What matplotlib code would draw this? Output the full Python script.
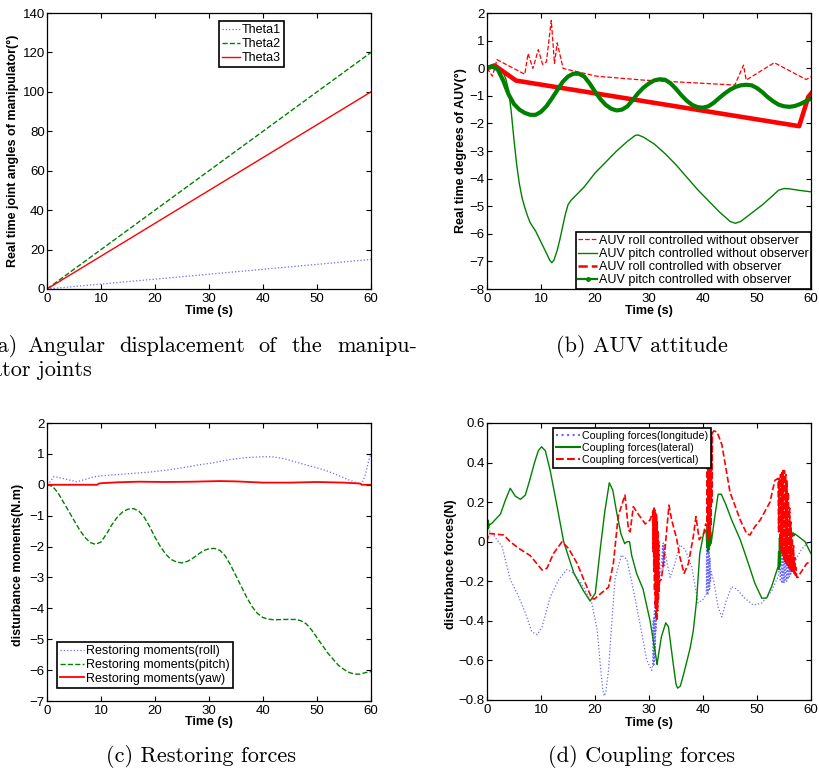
import numpy as np
import matplotlib.pyplot as plt
from matplotlib.lines import Line2D

plt.rcParams['font.family'] = ['Liberation Sans', 'DejaVu Sans']

W, H = 819, 770

# ---------------- (a) joint angles ----------------
time_a = [0, 60]
theta1 = [0, 15]
theta2 = [0, 120]
theta3 = [0, 100]

# ---------------- (b) AUV attitude ----------------
roll_wo_t = [0, 1.0, 1.85, 7.0, 7.6, 8.5, 9.5, 10.3, 11.0, 11.9, 12.5, 13.0, 14.1,
             20.3, 28.9, 45.9, 47.5, 48.0, 53.2, 59.1, 60]
roll_wo = [0, -0.29, 0.31, -0.22, 0.53, -0.01, 0.67, 0.14, 0.23, 1.73, 0.17, 0.92, -0.01,
           -0.29, -0.43, -0.61, 0.11, -0.43, 0.2, -0.41, -0.31]

pitch_wo_t = [0, 1, 2, 3, 3.5, 4, 4.5, 5, 5.5, 6, 6.5, 7, 7.5, 8, 9, 10, 11, 11.6, 12, 12.4,
              13, 13.5, 14, 14.5, 15, 15.5, 16.5, 18, 20, 22, 24, 26, 27.5, 28, 29, 31, 33,
              35, 37, 39, 41, 43, 45, 46, 47, 49, 51, 53, 54, 55, 56, 58, 60]
pitch_wo = [0, 0.05, 0.02, -0.15, -0.4, -0.8, -1.6, -2.6, -3.5, -4.2, -4.7, -5.05, -5.35,
            -5.6, -5.9, -6.3, -6.7, -6.95, -7.05, -6.95, -6.6, -6.2, -5.75, -5.3, -4.95, -4.8,
            -4.6, -4.3, -3.8, -3.4, -3.0, -2.65, -2.43, -2.42, -2.5, -2.75, -3.1, -3.5, -3.95,
            -4.4, -4.8, -5.2, -5.55, -5.62, -5.55, -5.25, -4.95, -4.6, -4.42, -4.36, -4.37,
            -4.43, -4.48]

roll_w_t = [0, 1.4, 5.4, 57.8, 59.5, 60]
roll_w = [0, 0.1, -0.45, -2.1, -1.04, -0.92]

pitch_w_t = list(range(0, 61))
pitch_w = [0, 0.07, -0.05, -0.45, -0.95, -1.3, -1.5, -1.62, -1.69, -1.69, -1.58, -1.38,
           -1.1, -0.8, -0.5, -0.3, -0.2, -0.2, -0.3, -0.55, -0.85, -1.12, -1.33, -1.47,
           -1.53, -1.5, -1.38, -1.15, -0.9, -0.7, -0.55, -0.44, -0.4, -0.42, -0.55, -0.75,
           -0.98, -1.18, -1.33, -1.41, -1.43, -1.38, -1.25, -1.08, -0.92, -0.78, -0.68,
           -0.62, -0.6, -0.62, -0.72, -0.87, -1.05, -1.2, -1.32, -1.38, -1.4, -1.37, -1.3,
           -1.2, -1.1]

# ---------------- (c) restoring moments ----------------
mroll_t = [0, 0.6, 1.3, 2.5, 4, 5.5, 7, 8.5, 10, 13, 16, 19, 22, 25, 28, 31, 34, 37, 40,
           42, 44, 46, 48, 50, 52, 54, 56, 57.5, 58.3, 59, 59.6, 60]
mroll = [0, 0.1, 0.27, 0.22, 0.16, 0.1, 0.17, 0.25, 0.29, 0.33, 0.37, 0.41, 0.47, 0.55,
         0.64, 0.72, 0.82, 0.88, 0.91, 0.9, 0.84, 0.74, 0.64, 0.55, 0.44, 0.3, 0.15, 0.06,
         0.02, 0.35, 0.8, 1.02]

mpitch_t = [0, 1, 2, 3, 4, 5, 6, 7, 8, 9, 10, 11, 12, 13, 14, 15, 16, 17, 18, 19, 20, 21,
            22, 23, 24, 25, 26, 27, 28, 29, 30, 31, 32, 33, 34, 35, 36, 37, 38, 39, 40, 41,
            42, 44, 46, 47, 48, 49, 50, 51, 52, 53, 54, 55, 56, 57, 58, 59, 60]
mpitch = [0, -0.05, -0.25, -0.55, -0.85, -1.15, -1.45, -1.7, -1.87, -1.93, -1.85, -1.6,
          -1.3, -1.05, -0.88, -0.79, -0.77, -0.85, -1.05, -1.35, -1.7, -2.0, -2.25, -2.42,
          -2.5, -2.53, -2.48, -2.38, -2.25, -2.13, -2.07, -2.06, -2.12, -2.3, -2.6, -2.95,
          -3.3, -3.65, -3.95, -4.17, -4.3, -4.35, -4.37, -4.36, -4.36, -4.4, -4.5, -4.7,
          -4.95, -5.2, -5.45, -5.65, -5.85, -5.98, -6.08, -6.13, -6.13, -6.08, -6.05]

myaw_t = [0, 9.3, 9.6, 10, 13, 17, 22, 27, 32, 35, 40, 45, 50, 55, 58, 58.3, 60]
myaw = [0, 0, 0.04, 0.05, 0.08, 0.1, 0.09, 0.1, 0.12, 0.11, 0.07, 0.07, 0.09, 0.07, 0.04, 0, 0]

# ---------------- (d) coupling forces ----------------
# longitude
lon_t = [0, 1.2, 2.8, 4.3, 5.9, 7.1, 8.3, 9.3, 10.2, 11.7, 13.3, 14.8, 16.1, 17.9, 19.4,
         20.4, 21.0, 21.4, 21.7, 22.0, 22.5, 23.0, 23.7, 24.9, 25.9, 27.0, 28.3, 29.6, 30.5,
         30.7, 30.76, 30.82, 30.88, 30.94, 31.0, 31.06, 31.12, 31.18, 31.24, 31.3, 31.36,
         32.0, 32.4,
         32.5, 32.58, 32.66, 32.74, 32.82, 32.9, 32.98,
         33.3, 33.9, 34.8, 35.7, 36.7, 37.9, 39.1, 40.1, 40.5,
         40.6, 40.68, 40.76, 40.84, 40.92, 41.0, 41.08, 41.16, 41.24, 41.32, 41.4, 41.48,
         42.0, 42.8, 43.5, 44.3, 45.3, 46.3, 47.5, 49.3, 50.9, 52.7, 54.0,
         54.2, 54.32, 54.44, 54.56, 54.68, 54.8, 54.92, 55.04, 55.16, 55.28, 55.4, 55.52,
         55.64, 55.76, 55.88, 56.0, 56.12, 56.24, 56.36, 56.48, 56.6,
         57.2, 58.2, 59.2, 60]
lon = [0.068, 0.034, -0.025, -0.19, -0.28, -0.36, -0.455, -0.47, -0.43, -0.28, -0.19,
       -0.14, -0.16, -0.23, -0.31, -0.445, -0.63, -0.74, -0.78, -0.76, -0.65, -0.45, -0.19,
       -0.067, -0.09, -0.23, -0.41, -0.6, -0.65,
       -0.62, -0.4, -0.63, -0.38, -0.62, -0.35, -0.6, -0.3, -0.55, -0.28, -0.45, -0.25,
       -0.19, -0.08,
       -0.02, -0.14, 0.0, -0.13, -0.01, -0.12, -0.05,
       -0.1, -0.18, -0.11, -0.016, -0.04, -0.126, -0.31, -0.29, -0.27,
       -0.27, -0.02, -0.26, 0.0, -0.27, -0.01, -0.25, -0.03, -0.24, -0.08, -0.2, -0.15,
       -0.2, -0.33, -0.38, -0.3, -0.227, -0.24, -0.28, -0.32, -0.31, -0.25, -0.17,
       -0.08, -0.2, -0.07, -0.21, -0.07, -0.21, -0.06, -0.21, -0.07, -0.2, -0.07, -0.2,
       -0.08, -0.19, -0.08, -0.18, -0.09, -0.17, -0.09, -0.15, -0.1,
       -0.09, -0.04, -0.01, 0.0]

# lateral
lat_t = [0, 0.05, 0.1, 0.15, 0.2, 0.25, 0.3, 0.35, 0.4, 0.9, 2.5, 3.4, 4.3, 5.25, 6.2, 7.1,
         7.9, 8.8, 9.5, 10.1, 10.8, 11.7, 12.9, 14.2, 16.1, 17.9, 19.1, 20.06, 21.0, 21.8,
         22.65, 23.3, 24.0, 24.8, 25.5, 25.9, 26.4, 26.8, 27.7, 28.9, 30.2, 31.1, 31.5,
         31.6, 32.3, 33.1, 33.6, 34.5, 35.0, 35.3, 35.8, 36.5, 37.6, 38.2, 38.8, 39.4, 40.1,
         40.6, 40.7, 40.8, 40.9, 41.0, 41.1, 41.2, 41.3, 41.4, 41.5,
         41.8, 42.2, 42.8, 43.4, 44.2, 45.3, 46.9, 48.4, 49.6, 50.9, 51.8, 52.7, 53.9,
         54.0, 54.08, 54.16, 54.24, 54.32, 54.4, 54.48, 54.56, 54.64,
         54.75, 54.9, 55.05, 55.2, 55.35, 55.5, 55.65, 55.8, 55.95, 56.1, 56.25, 56.4,
         56.55, 56.7, 56.85, 57.0,
         57.5, 58.9, 59.8, 60]
lat = [0, 0.1, 0.06, 0.11, 0.07, 0.1, 0.07, 0.09, 0.085, 0.093, 0.14, 0.21, 0.27, 0.23,
       0.214, 0.236, 0.31, 0.4, 0.46, 0.48, 0.46, 0.36, 0.19, 0.0, -0.16, -0.25, -0.3,
       -0.26, -0.03, 0.15, 0.298, 0.26, 0.15, 0.04, -0.01, 0.0, 0.0, -0.07, -0.16, -0.24,
       -0.4, -0.55, -0.62, -0.6, -0.48, -0.41, -0.43, -0.62, -0.72, -0.74, -0.73, -0.66,
       -0.54, -0.45, -0.3, -0.06, 0.04,
       0.06, -0.03, 0.08, -0.05, 0.09, -0.04, 0.08, -0.02, 0.05, -0.01,
       0.05, 0.13, 0.24, 0.24, 0.19, 0.11, 0.01, -0.11, -0.21, -0.286, -0.284, -0.227, -0.126,
       -0.05, -0.14, 0.02, -0.12, 0.04, -0.06, 0.05, 0.0, 0.05,
       0.03, 0.06, 0.03, 0.06, 0.03, 0.06, 0.03, 0.06, 0.03, 0.055, 0.03, 0.05,
       0.03, 0.045, 0.03, 0.04,
       0.03, 0.0, -0.05, -0.06]

# vertical
vert_t = [0, 0.3, 3.1, 4.3, 5.9, 8.0, 8.9, 10.2, 11.1, 12.3, 13.9, 15.1, 16.7, 17.9, 19.4,
          19.9, 20.7, 22.5, 23.4, 24.3, 25.55, 26.2, 26.5, 27.1, 28.0, 29.3, 30.2, 30.7,
          30.75, 30.82, 30.89, 30.96, 31.03, 31.1, 31.17, 31.24, 31.31, 31.38, 31.45,
          31.52, 31.59, 31.66, 31.73, 31.8, 31.87, 31.94,
          32.3, 33.0, 33.7, 34.2, 35.1, 35.7, 36.5, 37.3, 38.2, 38.7, 39.3, 40.1, 40.5,
          40.7, 40.78, 40.86, 40.94, 41.02, 41.1, 41.18, 41.26, 41.34, 41.42, 41.5, 41.58,
          41.66, 41.74,
          42.0, 42.6, 43.5, 45.0, 46.9, 48.1, 48.7, 49.6, 50.6, 52.4, 53.3, 53.9,
          54.0, 54.12, 54.24, 54.36, 54.48, 54.6, 54.72, 54.84, 54.96, 55.08, 55.2, 55.32,
          55.44, 55.56, 55.68, 55.8, 55.92, 56.04, 56.16, 56.28, 56.4, 56.52, 56.64, 56.76,
          56.88, 57.0, 57.12, 57.24, 57.36,
          57.6, 58.0, 59.2, 60]
vert = [0, 0.042, 0.034, 0.0, -0.034, -0.07, -0.1, -0.143, -0.134, -0.06, 0.0, -0.034,
        -0.11, -0.19, -0.286, -0.29, -0.27, -0.23, -0.11, 0.13, 0.236, 0.06, 0.05, 0.177,
        0.14, 0.09, 0.11, 0.15,
        -0.05, 0.16, -0.15, 0.17, -0.25, 0.16, -0.33, 0.15, -0.39, 0.14, -0.4, 0.1, -0.35,
        0.05, -0.3, 0.0, -0.25, -0.2,
        -0.19, -0.025, 0.185, 0.11, 0.017, -0.075, -0.16, -0.11, 0.025, 0.127, 0.01, 0.04, 0.09,
        0.08, 0.45, 0.02, 0.5, 0.01, 0.53, 0.02, 0.55, 0.03, 0.55, 0.08, 0.55, 0.2, 0.55,
        0.56, 0.555, 0.49, 0.25, 0.11, 0.04, 0.034, 0.076, 0.11, 0.2, 0.31, 0.32,
        0.05, 0.32, 0.0, 0.34, -0.05, 0.35, -0.07, 0.36, -0.09, 0.36, -0.1, 0.34, -0.11,
        0.31, -0.12, 0.25, -0.13, 0.17, -0.14, 0.1, -0.15, 0.04, -0.15, -0.02, -0.16, -0.08,
        -0.17, -0.13, -0.18,
        -0.18, -0.16, -0.11, -0.1]

x_ticks = [0, 10, 20, 30, 40, 50, 60]
a_yticks = [0, 20, 40, 60, 80, 100, 120, 140]
b_yticks = [-8, -7, -6, -5, -4, -3, -2, -1, 0, 1, 2]
c_yticks = [-7, -6, -5, -4, -3, -2, -1, 0, 1, 2]
d_yticks = [-0.8, -0.6, -0.4, -0.2, 0, 0.2, 0.4, 0.6]
d_ylabels = ['\u22120.8', '\u22120.6', '\u22120.4', '\u22120.2', '0', '0.2', '0.4', '0.6']

BLUE = '#6a6aff'
GREEN = '#008000'
RED = '#ff0000'


def rect(l, t, r, b):
    return [l / W, 1 - b / H, (r - l) / W, (b - t) / H]


def style(ax, yticks, ylim, ylabel, lx, ly, xly, ylabels=None):
    ax.set_xlim(0, 60)
    ax.set_xticks(x_ticks)
    ax.set_ylim(*ylim)
    ax.set_yticks(yticks)
    if ylabels is not None:
        ax.set_yticklabels(ylabels)
    ax.tick_params(direction='in', top=True, right=True, length=3.5, width=0.8,
                   labelsize=9.5, colors='black')
    ax.tick_params(axis='x', pad=3)
    ax.tick_params(axis='y', pad=1.5)
    ax.set_xlabel('Time (s)', fontweight='bold', fontsize=9)
    ax.xaxis.set_label_coords(0.5, xly)
    ax.set_ylabel(ylabel, fontweight='bold', fontsize=9)
    ax.yaxis.set_label_coords(lx, ly)
    for s in ax.spines.values():
        s.set_linewidth(0.9)


def frame(leg):
    f = leg.get_frame()
    f.set_edgecolor('black')
    f.set_linewidth(1.2)
    f.set_boxstyle('square', pad=0)


fig = plt.figure(figsize=(W / 100, H / 100), dpi=100)

# (a)
ax = fig.add_axes(rect(47, 13, 371, 289))
ax.plot(time_a, theta1, ls=':', color=BLUE, lw=0.9, label='Theta1')
ax.plot(time_a, theta2, ls='--', color=GREEN, lw=1.0, label='Theta2')
ax.plot(time_a, theta3, ls='-', color=RED, lw=1.0, label='Theta3')
style(ax, a_yticks, (0, 140), 'Real time joint angles of manipulator(°)', -0.086, 0.5, -0.058)
leg = ax.legend(loc='upper left', bbox_to_anchor=(0.531, 0.971), fontsize=9, fancybox=False,
                borderaxespad=0, borderpad=0.25, handlelength=1.4, handletextpad=0.15,
                labelspacing=0.15, framealpha=1)
frame(leg)

# (b)
ax = fig.add_axes(rect(487, 13, 811, 289))
ax.plot(roll_wo_t, roll_wo, ls='--', color=RED, lw=0.9)
ax.plot(pitch_wo_t, pitch_wo, ls='-', color=GREEN, lw=1.0)
ax.plot(roll_w_t, roll_w, ls='-', color=RED, lw=3.3)
ax.plot(pitch_w_t, pitch_w, ls='-', color=GREEN, lw=3.0)
style(ax, b_yticks, (-8, 2), 'Real time degrees of AUV(°)', -0.062, 0.5, -0.058)
handles = [Line2D([], [], ls='--', color=RED, lw=0.9),
           Line2D([], [], ls='-', color=GREEN, lw=1.0),
           Line2D([], [], ls='--', color=RED, lw=1.8),
           Line2D([], [], ls='-', color=GREEN, lw=1.6, marker='.', ms=5)]
labels = ['AUV roll controlled without observer', 'AUV pitch controlled without observer',
          'AUV roll controlled with observer', 'AUV pitch controlled with observer']
leg = ax.legend(handles, labels, loc='lower right', bbox_to_anchor=(1.0, 0.0), fontsize=9,
                fancybox=False, borderaxespad=0, borderpad=0.2, handlelength=1.5,
                handletextpad=0.15, labelspacing=0.1, framealpha=1)
frame(leg)

# (c)
ax = fig.add_axes(rect(47, 423, 371, 701))
ax.plot(mroll_t, mroll, ls=':', color=BLUE, lw=0.9, label='Restoring moments(roll)')
ax.plot(mpitch_t, mpitch, ls='--', color=GREEN, lw=1.0, label='Restoring moments(pitch)')
ax.plot(myaw_t, myaw, ls='-', color=RED, lw=1.3, label='Restoring moments(yaw)')
style(ax, c_yticks, (-7, 2), 'disturbance moments(N.m)', -0.071, 0.49, -0.054)
leg = ax.legend(loc='lower left', bbox_to_anchor=(0.031, 0.047), fontsize=9, fancybox=False,
                borderaxespad=0, borderpad=0.25, handlelength=1.9, handletextpad=0.15,
                labelspacing=0.15, framealpha=1)
frame(leg)

# (d)
ax = fig.add_axes(rect(487, 423, 811, 700))
ax.plot(lon_t, lon, ls=':', color=BLUE, lw=0.9, label='Coupling forces(longitude)')
ax.plot(lat_t, lat, ls='-', color=GREEN, lw=1.0, label='Coupling forces(lateral)')
ax.plot(vert_t, vert, ls='--', color=RED, lw=1.2, label='Coupling forces(vertical)')
style(ax, d_yticks, (-0.8, 0.6), 'disturbance forces(N)', -0.093, 0.49, -0.061, d_ylabels)
leg = ax.legend(loc='upper left', bbox_to_anchor=(0.204, 0.982), fontsize=7.7, fancybox=False,
                borderaxespad=0, borderpad=0.25, handlelength=2.3, handletextpad=0.15,
                labelspacing=0.2, framealpha=1)
for line in leg.get_lines():
    line.set_linewidth(1.5)
frame(leg)

# captions
cap = dict(family='cmr10', fontsize=16, va='baseline')
fig.text(18 / W, 1 - 352 / H, '(a)', ha='right', **cap)
for word, x in [('Angular', 27), ('displacement', 119), ('of', 258), ('the', 292),
                ('manipu-', 337)]:
    fig.text(x / W, 1 - 352 / H, word, ha='left', **cap)
fig.text(-15 / W, 1 - 376 / H, 'lator joints', ha='left', **cap)
fig.text(642 / W, 1 - 352 / H, '(b) AUV attitude', ha='center', **cap)
fig.text(201 / W, 1 - 762 / H, '(c) Restoring forces', ha='center', **cap)
fig.text(642 / W, 1 - 762 / H, '(d) Coupling forces', ha='center', **cap)

fig.savefig('out.png', dpi=100)
